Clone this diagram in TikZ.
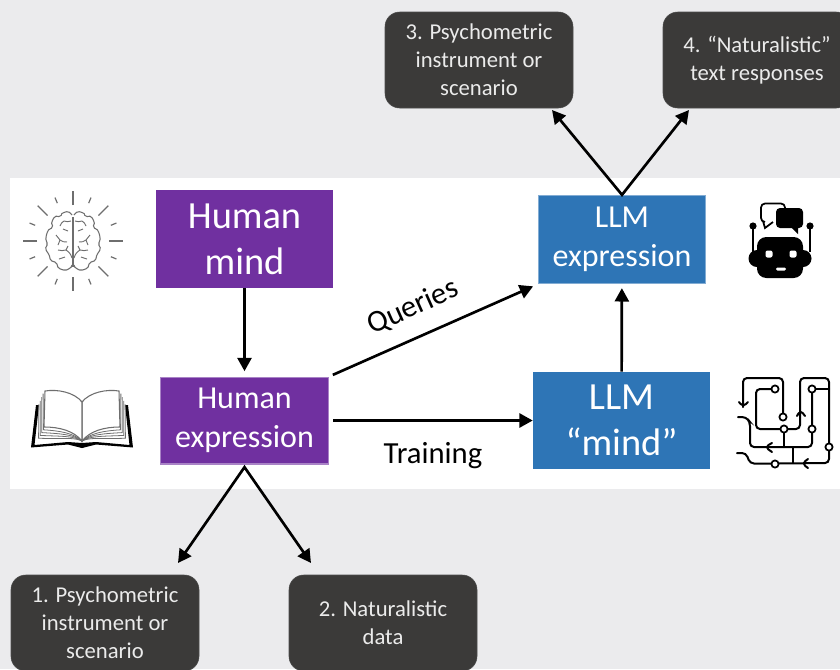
\documentclass[tikz,border=0pt]{standalone}
\usepackage{fontspec}
\setmainfont{Carlito}
\usetikzlibrary{arrows.meta}
\definecolor{bggrey}{HTML}{EBEBED}
\definecolor{humanpurple}{HTML}{7030A0}
\definecolor{llmblue}{HTML}{2E75B6}
\definecolor{darkbox}{HTML}{3B3A39}
\definecolor{iconline}{HTML}{6E6E6E}
\tikzset{
        mindbox/.style={inner sep=0pt, align=center, text=white, font=\fontsize{28.8}{34.5}\selectfont},
        exprbox/.style={inner sep=0pt, align=center, text=white, font=\fontsize{24}{29.5}\selectfont, line width=1pt},
        itembox/.style={draw=black!70, fill=darkbox, rounded corners=11pt, minimum width=141pt, inner sep=0pt, align=center, text=white!92!black, font=\fontsize{17}{21}\selectfont},
        arrow/.style={line width=2pt, -{Triangle[length=10pt,width=10.5pt]}},
        twoarrow/.style={line width=2pt, {Triangle[length=10pt,width=10.5pt]}-{Triangle[length=10pt,width=10.5pt]}},
        lbl/.style={inner sep=0pt, font=\fontsize{23}{27}\selectfont},
        wire/.style={line width=1.5pt, rounded corners=3pt, line cap=round},
        pin/.style={line width=1.3pt, draw=black, fill=white},
        brainhalf/.pic={
            \draw[iconline, line width=0.8pt, rounded corners=1pt]
                plot[smooth, tension=0.6] coordinates {(1,-26) (5,-29) (10,-28) (13,-25) (18,-24) (21,-19) (21,-14) (25,-10) (27,-3) (26,3) (27,8) (24,14) (22,19) (17,22) (14,27) (8,29) (3,27) (1,24)};
            \draw[iconline, line width=0.7pt] (2,-20) to[bend right=20] (9,-20) to[bend left=20] (13,-15);
            \draw[iconline, line width=0.7pt] (5,-10) -- (10,-12);
            \draw[iconline, line width=0.7pt] (6,1) to[bend right=20] (13,-1) to[bend left=10] (17,-6);
            \draw[iconline, line width=0.7pt] (13,-1) -- (15,4);
            \draw[iconline, line width=0.7pt] (1,17) to[bend left=20] (7,9) to[bend right=15] (15,9);
            \draw[iconline, line width=0.7pt] (7,9) -- (5,5);
            \draw[iconline, line width=0.7pt] (8,16) -- (14,18);
        },
        bookhalf/.pic={
            \fill[black] (43,405) -- (46,405) -- (51,447.5) -- (14,444.5) -- (0,448) -- (-6,445) -- (0,443) -- (14,442) -- (47.5,445) -- cycle;
            \foreach \i in {4,3,2,1}
                \draw[iconline, line width=0.6pt] (0,441) .. controls (8,{432+\i*1.2}) and (22,{428+\i*2.8}) .. ({37+\i*1.6},{427+\i*2.8}) -- ({37.5+\i*1.4},{390+\i*3.6});
            \draw[iconline, line width=0.8pt, fill=white] (0,402) .. controls (8,392) and (25,389) .. (37,391) -- (38,427) .. controls (22,427) and (8,431) .. (0,441) -- cycle;
        }
    }

\begin{document}
\begin{tikzpicture}[x=0.75pt, y=-0.75pt]
            \useasboundingbox (0,0) rectangle (840,669);
            \clip (0,0) rectangle (840,669);
            \fill[bggrey] (0,0) rectangle (840,669);
            \fill[white] (10,178) rectangle (840,489);

            \node [mindbox, fill=humanpurple, minimum width=132.75pt, minimum height=73.5pt] (hmind) at (244.5,239) {Human\\mind};
            \node [exprbox, fill=humanpurple, draw=humanpurple!60, minimum width=126pt, minimum height=65pt] (hexpr) at (244.5,420.5) {Human\\expression};
            \node [exprbox, fill=llmblue, draw=llmblue!60, minimum width=125pt, minimum height=66pt] (lexpr) at (622,239.5) {LLM\\expression};
            \node [mindbox, fill=llmblue, minimum width=132.75pt, minimum height=73pt] (lmind) at (621.5,420.5) {LLM\\“mind”};

            \node [itembox, minimum height=72pt] (item3) at (479,60) {3. Psychometric\\instrument or\\scenario};
            \node [itembox, minimum height=72pt] (item4) at (757,60) {4. “Naturalistic”\\text responses};
            \node [itembox, minimum height=72pt] (item1) at (105,623) {1. Psychometric\\instrument or\\scenario};
            \node [itembox, minimum height=72pt] (item2) at (383,623) {2. Naturalistic\\data};

            \coordinate (tip1) at (178,563);
            \coordinate (tip2) at (311,563);
            \coordinate (tip3) at (552,110);
            \coordinate (tip4) at (689,110);

            \draw [arrow, shorten >=4pt] (hmind) -- (hexpr);
            \draw [arrow, shorten <=3pt] (hexpr) -- (lmind);
            \draw [arrow, shorten <=3pt, shorten >=4pt] (hexpr.north east) -- (lexpr.south west);
            \draw [arrow, shorten >=3pt] (lmind) -- (lexpr);
            \draw [twoarrow] (tip1) -- ([yshift=-2pt]hexpr.south) -- (tip2);
            \draw [twoarrow] (tip3) -- (lexpr.north) -- (tip4);

            \node [lbl, rotate=24] (queries) at (413,307) {Queries};
            \node [lbl] (training) at (433,456) {Training};

            % brain
            \foreach \a in {0,45,...,315}
                \draw[iconline, line width=0.9pt] (73,241) ++(\a:36) -- ++(\a:14);
            \foreach \a in {22.5,67.5,...,337.5}
                \draw[iconline, line width=0.9pt] (73,241) ++(\a:41) -- ++(\a:6);
            \draw[iconline, line width=0.8pt] (73,217) -- (73,267);
            \pic at (73,241) {brainhalf};
            \pic[xscale=-1] at (73,241) {brainhalf};

            % book
            \pic at (82,0) {bookhalf};
            \pic[xscale=-1] at (82,0) {bookhalf};

            % robot
            \draw[line width=1.3pt, rounded corners=3pt] (765,222) -- (761,222) -- (761,203.5) -- (785,203.5) -- (785,212);
            \draw[line width=1.3pt] (763,221) -- (765,228) -- (773,222);
            \fill[black, rounded corners=3pt] (776,208) rectangle (803,228);
            \fill[black] (790,226) -- (798,234) -- (798,226) -- cycle;
            \fill[black, rounded corners=7pt] (757,237) rectangle (803,278);
            \foreach \xx in {753,810} {
                \draw[line width=1.1pt] (\xx,226) -- (\xx,252);
                \fill[black] (\xx,226) circle[radius=3.6];
            }
            \fill[black] (757,250) arc[start angle=-90, end angle=-270, radius=8.5] -- cycle;
            \fill[black] (803,250) arc[start angle=-90, end angle=90, radius=8.5] -- cycle;
            \foreach \xx in {769,793}
                \fill[white, rounded corners=1.5pt] (\xx-3.5,250.5) rectangle (\xx+3.5,257.5);
            \fill[white, rounded corners=1pt] (776,267.5) rectangle (786,270.5);

            % circuit
            \draw[wire] (783,417) -- (783,378) -- (743,378) -- (743,407);
            \draw[wire] (739,402) -- (743,407) -- (748,402);
            \draw[wire] (775,389) -- (756,389) -- (756,429) -- (800,429) -- (800,378) -- (829,378) -- (829,463) -- (775,463.5) -- (750,463.5) -- (746,453) -- (737,453);
            \draw[wire] (797,416) -- (800.5,410) -- (805,416);
            \draw[wire] (812,389) -- (829,389);
            \draw[wire] (812,389) -- (812,447) -- (750,447) -- (750,422) -- (746,417) -- (738,417);
            \draw[wire] (772,443) -- (765,447) -- (772,452);
            \draw[wire] (784,429) -- (784,447);
            \draw[wire] (793,447) -- (793,463);
            \draw[wire] (808,459) -- (802,463.5) -- (808,468);
            \foreach \xx/\yy in {775/389, 783/417, 784/429, 812/389, 812/429, 829/447, 775/464}
                \draw[pin] (\xx,\yy) circle[radius=3.6];
        \end{tikzpicture}
\end{document}
